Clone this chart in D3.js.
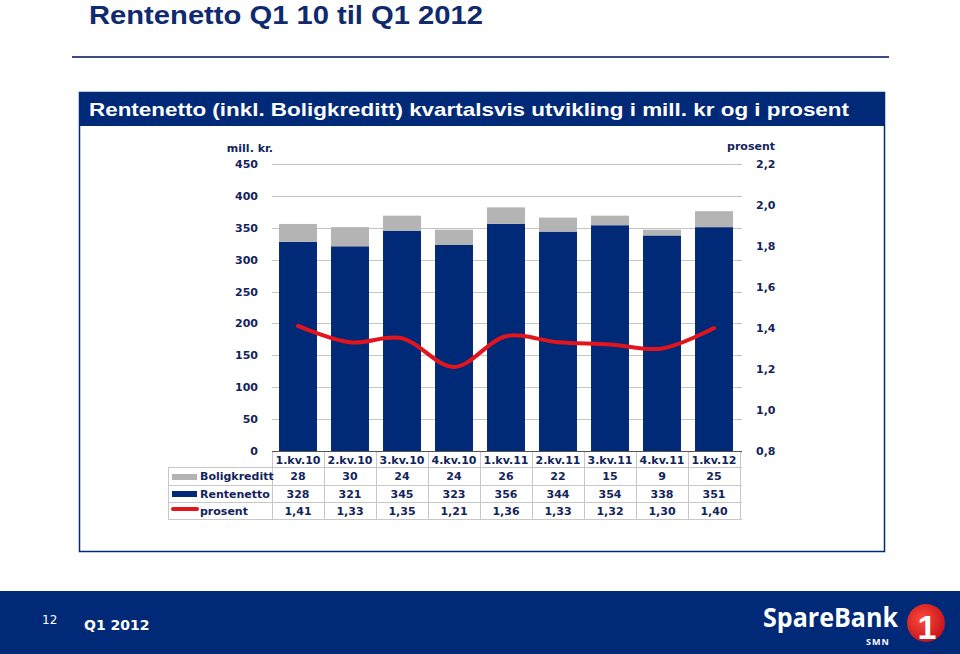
<!DOCTYPE html>
<html>
<head>
<meta charset="utf-8">
<script src="https://cdn.jsdelivr.net/npm/d3@7"></script>
<style>
html,body{margin:0;padding:0;background:#fff;}
svg{display:block;}
</style>
</head>
<body>
<svg id="chart" width="960" height="654"></svg>
<script>
const categories = ["1.kv.10","2.kv.10","3.kv.10","4.kv.10","1.kv.11","2.kv.11","3.kv.11","4.kv.11","1.kv.12"];
const boligkreditt = [28,30,24,24,26,22,15,9,25];
const rentenetto = [328,321,345,323,356,344,354,338,351];
const prosent = [1.41,1.33,1.35,1.21,1.36,1.33,1.32,1.30,1.40];
const leftTicks = [0,50,100,150,200,250,300,350,400,450];
const rightTicks = [0.8,1.0,1.2,1.4,1.6,1.8,2.0,2.2];
const seriesNames = ["Boligkreditt","Rentenetto","prosent"];

const NAVY = "#002a78", GRAY = "#b4b4b4", RED = "#e3141c", TXT = "#13245c";
const FONT = "'DejaVu Sans', Verdana, sans-serif";
const svg = d3.select("#chart");

// Title
svg.append("text").attr("x",89).attr("y",24).attr("font-family","'Liberation Sans', Arial, sans-serif")
  .attr("font-weight","bold").attr("font-size",25).attr("fill","#0f2a6e")
  .attr("textLength",394).attr("lengthAdjust","spacingAndGlyphs").text("Rentenetto Q1 10 til Q1 2012");
svg.append("line").attr("x1",72).attr("x2",889).attr("y1",57).attr("y2",57).attr("stroke","#3b4c82").attr("stroke-width",2);

// Box
svg.append("rect").attr("x",79.5).attr("y",92.5).attr("width",805).attr("height",459).attr("fill","#fff").attr("stroke",NAVY).attr("stroke-width",1.5);
svg.append("rect").attr("x",79).attr("y",92).attr("width",806).attr("height",34).attr("fill",NAVY);
svg.append("text").attr("x",89).attr("y",116).attr("font-family","'Liberation Sans', Arial, sans-serif")
  .attr("font-weight","bold").attr("font-size",19).attr("fill","#fff")
  .attr("textLength",760).attr("lengthAdjust","spacingAndGlyphs")
  .text("Rentenetto (inkl. Boligkreditt) kvartalsvis utvikling i mill. kr og i prosent");

// Scales
const x = d3.scaleBand().domain(categories).range([272,740]).paddingInner(0.27).paddingOuter(0.135);
const yL = d3.scaleLinear().domain([0,450]).range([451,164]);
const yR = d3.scaleLinear().domain([0.8,2.2]).range([451,164]);
const fmt = v => d3.format(".1f")(v).replace(".",",");

// Gridlines
svg.append("g").selectAll("line").data(leftTicks.filter(d=>d>0)).join("line")
  .attr("x1",272).attr("x2",742).attr("y1",d=>Math.round(yL(d))+0.5).attr("y2",d=>Math.round(yL(d))+0.5)
  .attr("stroke","#c4c4c4").attr("stroke-width",1);

// Left axis
const axL = svg.append("g").attr("transform","translate(272,0)")
  .call(d3.axisLeft(yL).tickValues(leftTicks).tickSize(0).tickPadding(14));
axL.select(".domain").remove();
axL.selectAll("text").attr("font-family",FONT).attr("font-weight","bold").attr("font-size",11).attr("fill",TXT);
svg.append("text").attr("x",273).attr("y",152).attr("text-anchor","end").attr("font-family",FONT)
  .attr("font-weight","bold").attr("font-size",11).attr("fill",TXT).text("mill. kr.");

// Right axis
const axR = svg.append("g").attr("transform","translate(742,0)")
  .call(d3.axisRight(yR).tickValues(rightTicks).tickFormat(fmt).tickSize(0).tickPadding(14));
axR.select(".domain").remove();
axR.selectAll("text").attr("font-family",FONT).attr("font-weight","bold").attr("font-size",11).attr("fill",TXT);
svg.append("text").attr("x",775).attr("y",150).attr("text-anchor","end").attr("font-family",FONT)
  .attr("font-weight","bold").attr("font-size",11).attr("fill",TXT).text("prosent");

// Bars
const g = svg.append("g");
g.selectAll("rect.rn").data(categories).join("rect").attr("class","rn")
  .attr("x",d=>x(d)).attr("width",x.bandwidth())
  .attr("y",(d,i)=>yL(rentenetto[i])).attr("height",(d,i)=>yL(0)-yL(rentenetto[i])).attr("fill",NAVY);
g.selectAll("rect.bk").data(categories).join("rect").attr("class","bk")
  .attr("x",d=>x(d)).attr("width",x.bandwidth())
  .attr("y",(d,i)=>yL(rentenetto[i]+boligkreditt[i])).attr("height",(d,i)=>yL(rentenetto[i])-yL(rentenetto[i]+boligkreditt[i])).attr("fill",GRAY);

// Line
const line = d3.line().x((d,i)=>x(categories[i])+x.bandwidth()/2).y(d=>yR(d)).curve(d3.curveCatmullRom.alpha(0.5));
svg.append("path").datum(prosent).attr("d",line).attr("fill","none").attr("stroke",RED).attr("stroke-width",4).attr("stroke-linecap","round");

// Data table
const step = x.step();
const colX = i => 272 + i*step;
const rowsY = [452,467,485,502,519];
const tg = svg.append("g");
const gridC = "#c8c8c8";
tg.append("line").attr("x1",272).attr("x2",742).attr("y1",451.5).attr("y2",451.5).attr("stroke","#555").attr("stroke-width",1);
[467,485,502,519].forEach(yy=>{
  tg.append("line").attr("x1",168).attr("x2",742).attr("y1",yy+0.5).attr("y2",yy+0.5).attr("stroke",gridC);
});
tg.append("line").attr("x1",168.5).attr("x2",168.5).attr("y1",467).attr("y2",519.5).attr("stroke",gridC);
d3.range(categories.length+1).forEach(i=>{
  tg.append("line").attr("x1",Math.round(colX(i))+0.5).attr("x2",Math.round(colX(i))+0.5)
    .attr("y1",452).attr("y2",519.5).attr("stroke",gridC);
});
tg.selectAll("text.cat").data(categories).join("text").attr("class","cat")
  .attr("x",(d,i)=>colX(i)+step/2).attr("y",463.5).attr("text-anchor","middle")
  .attr("font-family",FONT).attr("font-weight","bold").attr("font-size",11).attr("fill",TXT).text(d=>d);
const rowsData = [boligkreditt.map(String), rentenetto.map(String), prosent.map(v=>d3.format(".2f")(v).replace(".",","))];
rowsData.forEach((vals,r)=>{
  const yy = rowsY[r+1] + (rowsY[r+2]-rowsY[r+1])/2 + 4;
  tg.selectAll("text.r"+r).data(vals).join("text").attr("class","r"+r)
    .attr("x",(d,i)=>colX(i)+step/2).attr("y",yy).attr("text-anchor","middle")
    .attr("font-family",FONT).attr("font-weight","bold").attr("font-size",11).attr("fill",TXT).text(d=>d);
  tg.append("text").attr("x",200).attr("y",yy).attr("font-family",FONT).attr("font-weight","bold")
    .attr("font-size",11).attr("fill",TXT).text(seriesNames[r]);
});
tg.append("rect").attr("x",172).attr("y",474).attr("width",25).attr("height",6).attr("fill",GRAY);
tg.append("rect").attr("x",172).attr("y",491).attr("width",25).attr("height",6).attr("fill",NAVY);
tg.append("line").attr("x1",173).attr("x2",197).attr("y1",509).attr("y2",509).attr("stroke",RED).attr("stroke-width",4).attr("stroke-linecap","round");

// Footer
svg.append("rect").attr("x",0).attr("y",591).attr("width",960).attr("height",63).attr("fill",NAVY);
svg.append("text").attr("x",42).attr("y",624).attr("font-family","'DejaVu Sans', sans-serif").attr("font-size",12).attr("fill","#fff").text("12");
svg.append("text").attr("x",84).attr("y",630).attr("font-family","'DejaVu Sans', sans-serif").attr("font-weight","bold").attr("font-size",14).attr("fill","#fff").text("Q1 2012");
svg.append("text").attr("x",763).attr("y",627).attr("font-family","'Open Sans', 'Liberation Sans', sans-serif").attr("font-weight","bold")
  .attr("font-size",26).attr("fill","#fff").attr("textLength",135).attr("lengthAdjust","spacingAndGlyphs").text("SpareBank");
svg.append("text").attr("x",866).attr("y",645).attr("font-family","'Open Sans', 'Liberation Sans', sans-serif").attr("font-weight","bold")
  .attr("font-size",9).attr("fill","#fff").attr("letter-spacing",1).text("SMN");
const defs = svg.append("defs");
const rg = defs.append("radialGradient").attr("id","lg").attr("cx","40%").attr("cy","40%").attr("r","65%");
rg.append("stop").attr("offset","0%").attr("stop-color","#ff4a3a");
rg.append("stop").attr("offset","100%").attr("stop-color","#c2121a");
svg.append("circle").attr("cx",926).attr("cy",623).attr("r",19).attr("fill","url(#lg)");
svg.append("text").attr("x",927).attr("y",639).attr("text-anchor","middle").attr("font-family","'Liberation Sans', sans-serif")
  .attr("font-weight","bold").attr("font-size",34).attr("fill","#fff").text("1");
</script>
</body>
</html>
